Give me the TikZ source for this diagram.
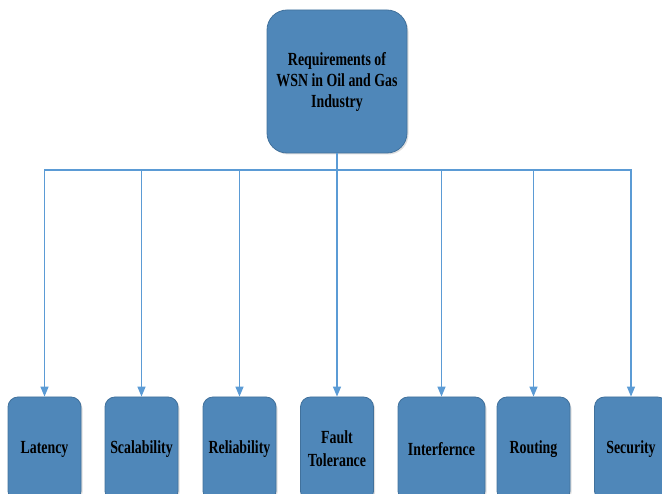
\documentclass[tikz,border=0pt]{standalone}
\usepackage{fontspec}
\setmainfont{Liberation Serif}[FakeStretch=0.75]
\usetikzlibrary{arrows.meta,shadows}
\definecolor{boxfill}{HTML}{4F87B9}
\definecolor{boxline}{HTML}{41719C}
\definecolor{wire}{HTML}{5B9BD5}
\tikzset{
  box/.style={draw=boxline, line width=0.8pt, fill=boxfill, align=center,
    font=\bfseries\fontsize{18.5}{23}\selectfont, text=black,
    drop shadow={opacity=0.25, shadow xshift=1.5pt, shadow yshift=-1.5pt}},
  topbox/.style={box, minimum width=140pt, minimum height=143pt,
    rounded corners=20pt, font=\bfseries\fontsize{18.5}{21}\selectfont},
  leaf/.style={box, minimum width=73pt, minimum height=104pt, rounded corners=10pt},
  wirepath/.style={draw=wire, line width=1.3pt},
  arr/.style={wirepath, -{Triangle[length=10pt,width=8pt]}}
}
\begin{document}
\begin{tikzpicture}[x=1pt,y=-1pt]
  \useasboundingbox (0,0) rectangle (662,494);
  \clip (0,0) rectangle (662,494);
  % root node
  \node[topbox] (root) at (337,81.5) {Requirements of\\WSN in Oil and Gas\\Industry};
  % bus level
  \coordinate (bus) at (337,170);
  % leaf nodes
  \node[leaf] (lat) at (44.5,449) {Latency};
  \node[leaf] (sca) at (141.5,449) {Scalability};
  \node[leaf] (rel) at (239.5,449) {Reliability};
  \node[leaf] (ft)  at (337,449) {Fault\\Tolerance};
  \node[leaf, minimum width=87pt] (int) at (441.5,449) {Interfernce};
  \node[leaf] (rou) at (533.5,449) {Routing};
  \node[leaf] (sec) at (631,449) {Security};
  % connectors
  \draw[wirepath] (root.south) -- (bus);
  \foreach \n in {lat,sca,rel,ft,int,rou,sec}
    \draw[arr] (bus) -| (\n.north);
\end{tikzpicture}
\end{document}
